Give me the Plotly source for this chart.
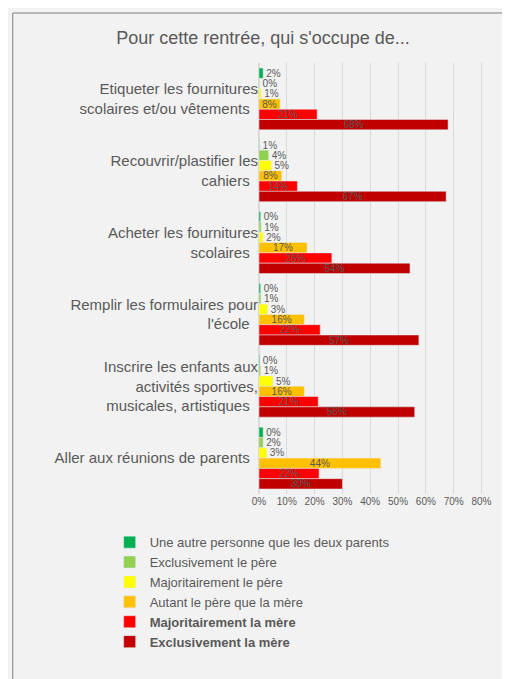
import plotly.graph_objects as go

categories = ["Etiqueter les fournitures<br>scolaires et/ou vêtements",
              "Recouvrir/plastifier les<br>cahiers",
              "Acheter les fournitures<br>scolaires",
              "Remplir les formulaires pour<br>l'école",
              "Inscrire les enfants aux<br>activités sportives,<br>musicales, artistiques",
              "Aller aux réunions de parents"]
series_names = ["Une autre personne que les deux parents", "Exclusivement le père",
                "Majoritairement le père", "Autant le père que la mère",
                "<b>Majoritairement la mère</b>", "<b>Exclusivement la mère</b>"]
colors = ["#00b050", "#92d050", "#ffff00", "#ffc000", "#ff0000", "#c00000"]
values = [
    [1.5, 0.2, 0.6, 0.6, 0.3, 1.5],
    [0.2, 3.5, 0.8, 0.7, 0.6, 1.5],
    [0.8, 4.5, 1.5, 3.1, 5.0, 2.8],
    [7.6, 8.2, 17.3, 16.3, 16.3, 43.8],
    [20.9, 13.8, 26.2, 22.0, 21.3, 21.6],
    [68.0, 67.3, 54.3, 57.5, 56.0, 30.0],
]
labels = [
    ["2%", "1%", "0%", "0%", "0%", "0%"],
    ["0%", "4%", "1%", "1%", "1%", "2%"],
    ["1%", "5%", "2%", "3%", "5%", "3%"],
    ["8%", "8%", "17%", "16%", "16%", "44%"],
    ["21%", "14%", "26%", "22%", "21%", "22%"],
    ["68%", "67%", "54%", "57%", "56%", "30%"],
]

fig = go.Figure()
for i in range(6):
    pos = ["inside" if v >= 7 else "outside" for v in values[i]]
    fig.add_trace(go.Bar(
        y=categories, x=values[i], name=series_names[i], orientation="h",
        marker_color=colors[i], text=labels[i], textposition=pos,
        insidetextanchor="middle", constraintext="none", cliponaxis=False,
        textfont=dict(size=10, color="#595959"),
        outsidetextfont=dict(size=10, color="#595959"),
        insidetextfont=dict(size=10, color="#595959"),
    ))

fig.update_layout(
    width=510, height=679,
    paper_bgcolor="#f2f2f2", plot_bgcolor="#f2f2f2",
    font=dict(family="Liberation Sans, Arial", color="#595959"),
    title=dict(text="Pour cette rentrée, qui s'occupe de...", x=0.5, y=0.965,
               xanchor="center", font=dict(size=18, color="#595959")),
    margin=dict(l=251, r=31, t=55, b=193),
    barmode="group", bargap=0.14, bargroupgap=0,
    showlegend=True,
    legend=dict(traceorder="normal", orientation="v", x=-0.655, xanchor="left",
                y=-0.077, yanchor="top", font=dict(size=13, color="#595959"),
                bgcolor="rgba(0,0,0,0)", tracegroupgap=0, itemwidth=30),
    shapes=[dict(type="rect", xref="paper", yref="paper",
                 x0=-1.08, x1=1.105, y0=-0.44, y1=1.116,
                 line=dict(color="#7f7f7f", width=1), fillcolor="rgba(0,0,0,0)")],
)
fig.update_xaxes(range=[0, 82], tickvals=[0, 10, 20, 30, 40, 50, 60, 70, 80],
                 ticktext=["0%", "10%", "20%", "30%", "40%", "50%", "60%", "70%", "80%"],
                 showgrid=True, gridcolor="#d9d9d9", zeroline=True, zerolinecolor="#d9d9d9",
                 tickfont=dict(size=10, color="#595959"))
fig.update_yaxes(autorange="reversed", tickfont=dict(size=15, color="#595959"),
                 ticksuffix="  ")
fig.write_html("out.html")
